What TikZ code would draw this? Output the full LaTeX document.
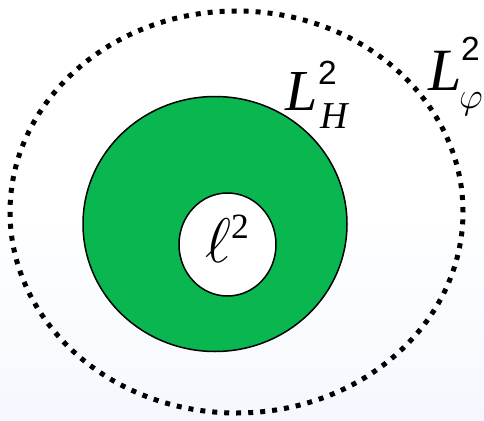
\documentclass[tikz,border=0pt]{standalone}
\usepackage{fontspec}
\setmainfont{Liberation Serif}
\newfontfamily\sansdigits{Liberation Sans}
\definecolor{ringgreen}{RGB}{9,182,80}
\definecolor{bgblue}{RGB}{244,248,254}
\newcommand{\mathglyph}[2]{\scalebox{#1}{\huge $#2$}}
\begin{document}
\begin{tikzpicture}[x=1pt,y=-1pt,
  dotring/.style={line width=5pt,dash pattern=on 5pt off 7pt},
  ringline/.style={line width=1.5pt,draw=black},
  glyph/.style={anchor=base west,inner sep=0pt}]
\useasboundingbox (0,0) rectangle (484,420);
\shade[top color=white,bottom color=bgblue,middle color=white] (0,0) rectangle (484,420);
\draw[dotring] (236.5,212) ellipse [x radius=226.5pt,y radius=201pt];
\path[ringline,fill=ringgreen] (215,224) ellipse [x radius=132pt,y radius=127.5pt];
\path[ringline,fill=white] (227.5,244.5) ellipse [x radius=48.5pt,y radius=51.5pt];
% L_H^2
\node[glyph,font=\fontsize{58}{60}\selectfont\itshape] (lhL) at (285,110) {L};
\node[glyph,font=\fontsize{33.5}{36}\sansdigits] (lhsup) at (318,84) {2};
\node[glyph,font=\fontsize{38}{40}\selectfont\itshape] (lhH) at (320,128) {H};
% L_phi^2
\node[glyph,font=\fontsize{60}{62}\selectfont\itshape] (lpL) at (428,90) {L};
\node[glyph,font=\fontsize{33.5}{36}\sansdigits] (lpsup) at (461,60) {2};
\node[glyph] (lpphi) at (459,108) {\mathglyph{1.78}{\varphi}};
% ell^2
\node[glyph] (ell) at (205,262) {\mathglyph{3.04}{\ell}};
\node[glyph,font=\fontsize{35.5}{38}\selectfont] (ellsup) at (231,238) {2};
\end{tikzpicture}
\end{document}
